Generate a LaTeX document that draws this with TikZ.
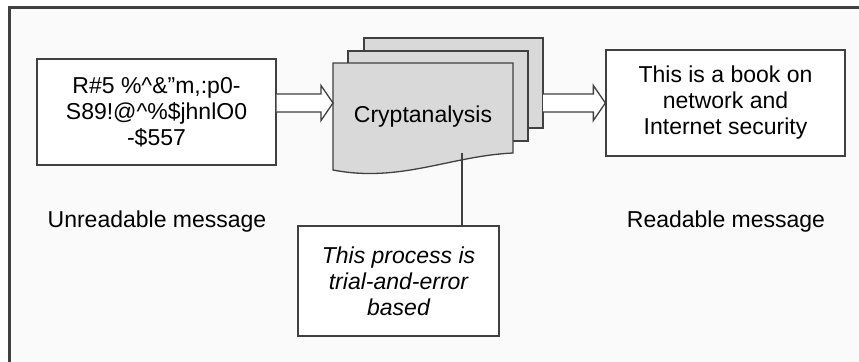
\documentclass[tikz,border=0pt]{standalone}
\usepackage{fontspec}
\setmainfont{Liberation Sans}
\usepackage{tikz}
\usetikzlibrary{calc}

\definecolor{linegray}{HTML}{404040}
\definecolor{docgray}{HTML}{D9D9D9}
\definecolor{paper}{HTML}{FAFAFA}

\begin{document}
\begin{tikzpicture}[font=\fontsize{23bp}{26bp}\selectfont,
	msg/.style={draw=linegray, line width=1.3bp, fill=white, minimum width=239bp,
		minimum height=106bp, align=center, inner sep=0pt},
	doc/.style={draw=linegray, line width=1.3bp, fill=docgray},
	hollow/.style={draw=linegray, line width=1.3bp, fill=white}]
	\clip (0bp,0bp) rectangle (859bp,-362bp);
	\fill[white] (0bp,0bp) rectangle (859bp,-362bp);
	\draw[line width=3bp, draw=linegray, fill=paper] (9.5bp,-400bp) rectangle (900bp,-7.5bp);

	% the pile of pages
	\draw[doc] (364bp,-38bp) rectangle (543bp,-128bp);
	\draw[doc] (348bp,-51bp) rectangle (528bp,-141bp);
	\draw[doc] (333bp,-170bp) -- (333bp,-63bp) -- (513bp,-63bp) -- (513bp,-153bp)
		.. controls (450bp,-156bp) and (400bp,-183bp) .. (333bp,-170bp) -- cycle;
	\node (crypt) at (423bp,-117bp) {Cryptanalysis};
	\coordinate (docL) at (333bp,-103bp);
	\coordinate (docR) at (543bp,-103bp);
	\coordinate (docB) at (462bp,-153bp);

	\node[msg] (cipher) at (156.5bp,-112bp) {R\#5 \%\textasciicircum\&”m,:p0-\\S89!@\textasciicircum\%\$jhnlO0\\-\$557};
	\node[msg] (plain)  at (725.5bp,-103bp) {This is a book on\\network and\\Internet security};
	\node[msg, minimum width=201bp, minimum height=110bp, font=\fontsize{23bp}{26bp}\selectfont\itshape] (note)
		at (398.5bp,-281bp) {This process is\\trial-and-error\\based};

	\node (cipherlbl) at (157bp,-222bp) {Unreadable message};
	\node (plainlbl)  at (726bp,-222bp) {Readable message};

	% hollow arrows
	\draw[hollow] ($(cipher.east |- docL)+(0,9bp)$) -- ($(docL)+(-12bp,9bp)$) -- ($(docL)+(-12bp,17.5bp)$)
		-- (docL) -- ($(docL)+(-12bp,-17.5bp)$) -- ($(docL)+(-12bp,-9bp)$) -- ($(cipher.east |- docL)+(0,-9bp)$);
	\draw[hollow] ($(docR)+(0,9bp)$) -- ($(plain.west)+(-12bp,9bp)$) -- ($(plain.west)+(-12bp,17.5bp)$)
		-- (plain.west) -- ($(plain.west)+(-12bp,-17.5bp)$) -- ($(plain.west)+(-12bp,-9bp)$) -- ($(docR)+(0,-9bp)$);

	\draw[draw=linegray, line width=1.3bp] (docB) -- (docB |- note.north);
\end{tikzpicture}
\end{document}
